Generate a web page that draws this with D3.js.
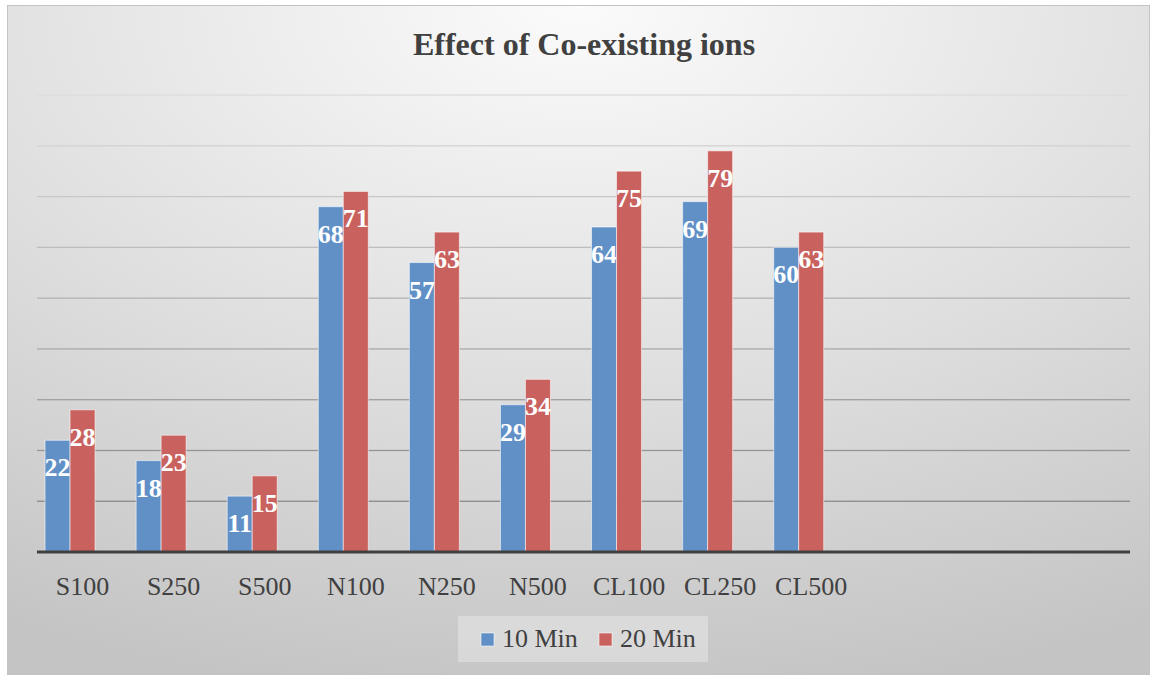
<!DOCTYPE html>
<html>
<head>
<meta charset="utf-8">
<script src="https://cdn.jsdelivr.net/npm/d3@7.9.0/dist/d3.min.js"></script>
<style>
  html, body { margin: 0; padding: 0; background: #fff; }
  svg { display: block; font-family: "Liberation Serif", "Times New Roman", serif; }
</style>
</head>
<body>
<svg width="1156" height="675"></svg>
<script>
// data
const categories = ['S100', 'S250', 'S500', 'N100', 'N250', 'N500', 'CL100', 'CL250', 'CL500'];
const min10 = [22, 18, 11, 68, 57, 29, 64, 69, 60];
const min20 = [28, 23, 15, 71, 63, 34, 75, 79, 63];
const seriesNames = ['10 Min', '20 Min'];
const gridTicks = [10, 20, 30, 40, 50, 60, 70, 80, 90];
const slotCount = 12; // axis keeps room for 3 empty categories

const colors = ['#6190c7', '#c9625f'];

let svg = d3.select('svg');
let defs = svg.append('defs');

// chart background
let bg = defs.append('radialGradient').attr('id', 'bg')
  .attr('cx', '50%').attr('cy', '0%').attr('r', '105%');
bg.append('stop').attr('offset', '0').attr('stop-color', '#fbfbfb');
bg.append('stop').attr('offset', '0.55').attr('stop-color', '#dedede');
bg.append('stop').attr('offset', '1').attr('stop-color', '#c4c4c4');

svg.append('rect')
  .attr('x', 7.5).attr('y', 5.5).attr('width', 1142).attr('height', 669)
  .attr('fill', 'url(#bg)').attr('stroke', '#c4c4c4');

let plotLeft = 37, plotRight = 1130, plotTop = 95, plotBottom = 552;

let x = d3.scaleBand()
  .domain(d3.range(slotCount))
  .range([plotLeft, plotRight])
  .paddingInner(0.1766)
  .paddingOuter(0.0883);

// three bar slots per group, the third is empty
let xInner = d3.scaleBand()
  .domain([0, 1, 2])
  .range([0, x.bandwidth()]);

let y = d3.scaleLinear().domain([0, 90]).range([plotBottom, plotTop]);

// gridlines get lighter towards the top
let grid = defs.append('linearGradient').attr('id', 'grid')
  .attr('gradientUnits', 'userSpaceOnUse')
  .attr('x1', 0).attr('x2', 0).attr('y1', y(90)).attr('y2', y(10));
grid.append('stop').attr('offset', '0').attr('stop-color', '#dcdcdc');
grid.append('stop').attr('offset', '1').attr('stop-color', '#8a8a8a');

svg.append('g')
  .selectAll('rect')
  .data(gridTicks)
  .join('rect')
  .attr('x', plotLeft)
  .attr('width', plotRight - plotLeft)
  .attr('y', (d) => y(d) - 0.6)
  .attr('height', 1.3)
  .attr('fill', 'url(#grid)');

// bars
let series = [min10, min20];
series.forEach((values, s) => {
  let g = svg.append('g');
  g.selectAll('rect')
    .data(values)
    .join('rect')
    .attr('x', (d, i) => x(i) + xInner(s))
    .attr('y', (d) => y(d))
    .attr('width', xInner.bandwidth())
    .attr('height', (d) => y(0) - y(d))
    .attr('fill', colors[s])
    .attr('stroke', 'rgba(255,255,255,0.55)')
    .attr('stroke-width', 1);

  g.selectAll('text')
    .data(values)
    .join('text')
    .attr('x', (d, i) => x(i) + xInner(s) + xInner.bandwidth() / 2)
    .attr('y', (d) => y(d) + 36)
    .attr('text-anchor', 'middle')
    .attr('font-size', 26)
    .attr('font-weight', 'bold')
    .attr('fill', '#fff')
    .text((d) => d);
});

// category axis
svg.append('line')
  .attr('x1', plotLeft).attr('x2', plotRight)
  .attr('y1', plotBottom).attr('y2', plotBottom)
  .attr('stroke', '#404040').attr('stroke-width', 3);

svg.append('g')
  .selectAll('text')
  .data(categories)
  .join('text')
  .attr('x', (d, i) => x(i) + x.bandwidth() / 2)
  .attr('y', 595)
  .attr('text-anchor', 'middle')
  .attr('font-size', 26)
  .attr('fill', '#404040')
  .text((d) => d);

// title
svg.append('text')
  .attr('x', 584).attr('y', 55)
  .attr('text-anchor', 'middle')
  .attr('font-size', 32)
  .attr('font-weight', 'bold')
  .attr('fill', '#404040')
  .text('Effect of Co-existing ions');

// legend
let legend = svg.append('g');
legend.append('rect')
  .attr('x', 458).attr('y', 616).attr('width', 250).attr('height', 46)
  .attr('fill', 'rgba(255,255,255,0.3)');

let legendX = [481, 599];
seriesNames.forEach((name, i) => {
  legend.append('rect')
    .attr('x', legendX[i]).attr('y', 633)
    .attr('width', 13).attr('height', 13)
    .attr('fill', colors[i])
    .attr('stroke', 'rgba(255,255,255,0.55)');
  legend.append('text')
    .attr('x', legendX[i] + 21).attr('y', 647)
    .attr('font-size', 26)
    .attr('fill', '#404040')
    .text(name);
});
</script>
</body>
</html>
